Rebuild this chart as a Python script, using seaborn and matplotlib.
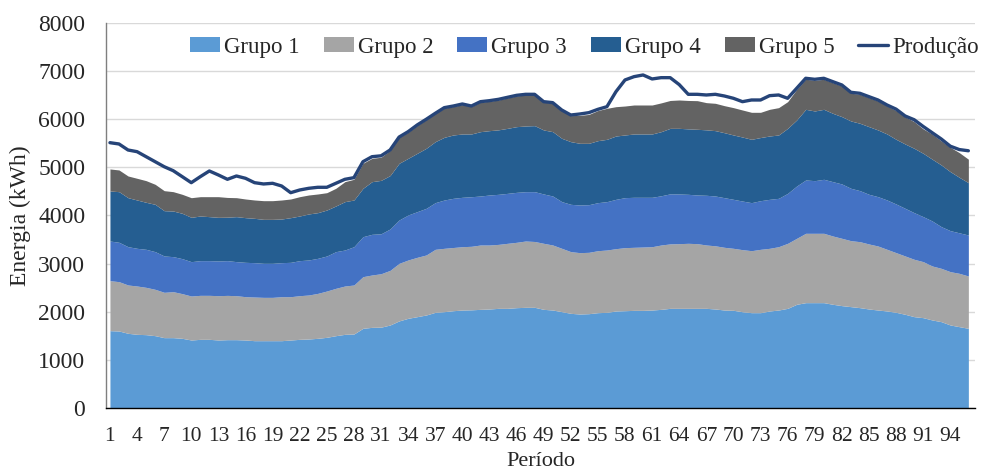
import matplotlib
matplotlib.use("Agg")
import matplotlib.pyplot as plt
import seaborn as sns
import numpy as np

periodos = list(range(1, 97))

grupo1 = [1607, 1600, 1552, 1531, 1524, 1503, 1462, 1462, 1448, 1413,
          1427, 1427, 1413, 1420, 1420, 1413, 1399, 1399, 1399, 1399,
          1413, 1427, 1434, 1448, 1469, 1503, 1531, 1538, 1656, 1676,
          1680, 1725, 1810, 1864, 1898, 1933, 1988, 2002, 2022, 2036,
          2040, 2050, 2057, 2071, 2071, 2085, 2092, 2092, 2050, 2036,
          2002, 1967, 1953, 1960, 1981, 1988, 2016, 2022, 2029, 2029,
          2036, 2050, 2071, 2071, 2071, 2071, 2071, 2057, 2036, 2030,
          2000, 1981, 1981, 2016, 2036, 2071, 2155, 2189, 2189, 2189,
          2155, 2127, 2106, 2085, 2057, 2036, 2016, 1988, 1947, 1898,
          1877, 1829, 1794, 1725, 1690, 1656]
grupo2 = [1039, 1025, 1004, 1004, 983, 963, 942, 955, 928, 914,
          914, 914, 921, 920, 914, 900, 907, 900, 900, 914,
          900, 907, 914, 934, 962, 984, 1004, 1018, 1073, 1088,
          1110, 1135, 1196, 1212, 1233, 1247, 1309, 1316, 1313, 1316,
          1320, 1337, 1330, 1329, 1351, 1358, 1378, 1368, 1372, 1351,
          1316, 1282, 1275, 1275, 1288, 1295, 1295, 1310, 1310, 1316,
          1316, 1337, 1339, 1344, 1351, 1344, 1316, 1313, 1303, 1288,
          1290, 1288, 1316, 1302, 1316, 1351, 1371, 1441, 1441, 1441,
          1419, 1399, 1371, 1371, 1351, 1330, 1281, 1240, 1212, 1192,
          1164, 1122, 1108, 1108, 1108, 1087]
grupo3 = [824, 818, 796, 783, 790, 783, 755, 728, 727, 714,
          721, 721, 721, 722, 707, 714, 714, 707, 707, 707,
          714, 728, 728, 728, 728, 762, 748, 796, 831, 845,
          830, 860, 901, 935, 949, 969, 970, 1004, 1022, 1026,
          1030, 1018, 1039, 1040, 1038, 1038, 1025, 1035, 1025, 1018,
          970, 983, 990, 990, 998, 1005, 1025, 1039, 1039, 1033,
          1026, 1023, 1040, 1032, 1018, 1011, 1033, 1035, 1031, 1018,
          1010, 998, 1011, 1018, 1005, 1038, 1087, 1108, 1094, 1122,
          1129, 1129, 1088, 1060, 1032, 1025, 1025, 1011, 990, 969,
          935, 935, 866, 852, 842, 852]
grupo4 = [1039, 1052, 1018, 1004, 977, 983, 941, 948, 942, 921,
          928, 914, 907, 903, 935, 928, 921, 914, 914, 907,
          928, 928, 956, 949, 955, 949, 1005, 970, 1005, 1094,
          1110, 1110, 1178, 1177, 1212, 1247, 1267, 1303, 1316, 1316,
          1304, 1337, 1337, 1340, 1351, 1365, 1365, 1372, 1330, 1337,
          1316, 1302, 1282, 1275, 1288, 1295, 1316, 1302, 1316, 1316,
          1316, 1332, 1361, 1364, 1360, 1365, 1360, 1358, 1350, 1337,
          1330, 1316, 1312, 1316, 1316, 1351, 1372, 1468, 1448, 1454,
          1420, 1399, 1399, 1400, 1406, 1386, 1372, 1344, 1337, 1337,
          1316, 1284, 1282, 1226, 1153, 1087]
grupo5 = [458, 451, 451, 451, 450, 416, 416, 402, 395, 408,
          401, 415, 429, 410, 394, 388, 381, 388, 388, 395,
          388, 401, 394, 388, 360, 367, 415, 430, 520, 485,
          480, 520, 540, 542, 578, 594, 586, 605, 592, 611,
          571, 613, 612, 620, 634, 639, 645, 638, 578, 593,
          576, 541, 580, 600, 625, 644, 609, 602, 602, 602,
          602, 598, 579, 589, 590, 595, 565, 568, 562, 568,
          562, 561, 524, 554, 568, 554, 635, 624, 638, 624,
          637, 636, 576, 604, 604, 603, 581, 597, 564, 554,
          508, 520, 500, 506, 513, 488]
producao = [5513, 5486, 5361, 5326, 5222, 5118, 5014, 4931, 4807, 4682,
            4807, 4925, 4842, 4752, 4821, 4773, 4682, 4655, 4669, 4613,
            4474, 4530, 4565, 4586, 4586, 4669, 4752, 4786, 5118, 5222,
            5240, 5361, 5630, 5742, 5881, 5999, 6123, 6241, 6275, 6317,
            6275, 6365, 6386, 6414, 6456, 6497, 6518, 6518, 6365, 6345,
            6192, 6088, 6109, 6137, 6206, 6261, 6573, 6816, 6885, 6920,
            6837, 6864, 6864, 6720, 6518, 6518, 6504, 6518, 6483, 6435,
            6365, 6400, 6400, 6490, 6504, 6435, 6643, 6851, 6830, 6851,
            6781, 6712, 6560, 6539, 6469, 6400, 6296, 6210, 6068, 5990,
            5850, 5720, 5590, 5440, 5370, 5345]

nomes = ["Grupo 1", "Grupo 2", "Grupo 3", "Grupo 4", "Grupo 5"]
cores = ["#5B9BD5", "#A5A5A5", "#4472C4", "#255E91", "#636363"]
cor_linha = "#264478"
xticks = list(range(1, 97, 3))
yticks = list(range(0, 8001, 1000))

sns.set_theme(style="white")
plt.rcParams["font.family"] = ["Liberation Serif", "DejaVu Serif"]

fig = plt.figure(figsize=(9.84, 4.73), dpi=100)
ax = fig.add_axes([0.1077, 0.1374, 0.8832, 0.814])

ax.stackplot(periodos, grupo1, grupo2, grupo3, grupo4, grupo5,
             colors=cores, labels=nomes, linewidth=0, zorder=2)
sns.lineplot(x=periodos, y=producao, ax=ax, color=cor_linha,
             linewidth=2.4, label="Produção", zorder=3)

ax.set_xlim(0.56, 96.74)
ax.set_ylim(0, 8000)
ax.set_xticks(xticks)
ax.set_xticklabels([str(t) for t in xticks], fontsize=15.5)
ax.set_yticks(yticks)
ax.set_yticklabels([str(t) for t in yticks], fontsize=17)
ax.tick_params(axis="y", length=0, pad=15)
ax.tick_params(axis="x", length=0, pad=14)
ax.yaxis.grid(True, color="#D9D9D9", linewidth=1)
ax.set_axisbelow(True)
for s in ["top", "right"]:
    ax.spines[s].set_visible(False)
ax.spines["left"].set_color("#7F7F7F")
ax.spines["left"].set_linewidth(1)
ax.spines["bottom"].set_color("#000000")
ax.spines["bottom"].set_linewidth(1)

ax.set_ylabel("Energia (kWh)", fontsize=17, labelpad=5)
ax.set_xlabel("Período", fontsize=16, labelpad=4)

handles, labels = ax.get_legend_handles_labels()
ax.legend(handles, labels, ncol=6, loc="center", frameon=False,
          bbox_to_anchor=(0.594, 0.90), bbox_transform=fig.transFigure,
          fontsize=16.5, handlelength=1.31, handleheight=0.6,
          handletextpad=0.17, columnspacing=1.05)

fig.savefig("out.png", dpi=100)
